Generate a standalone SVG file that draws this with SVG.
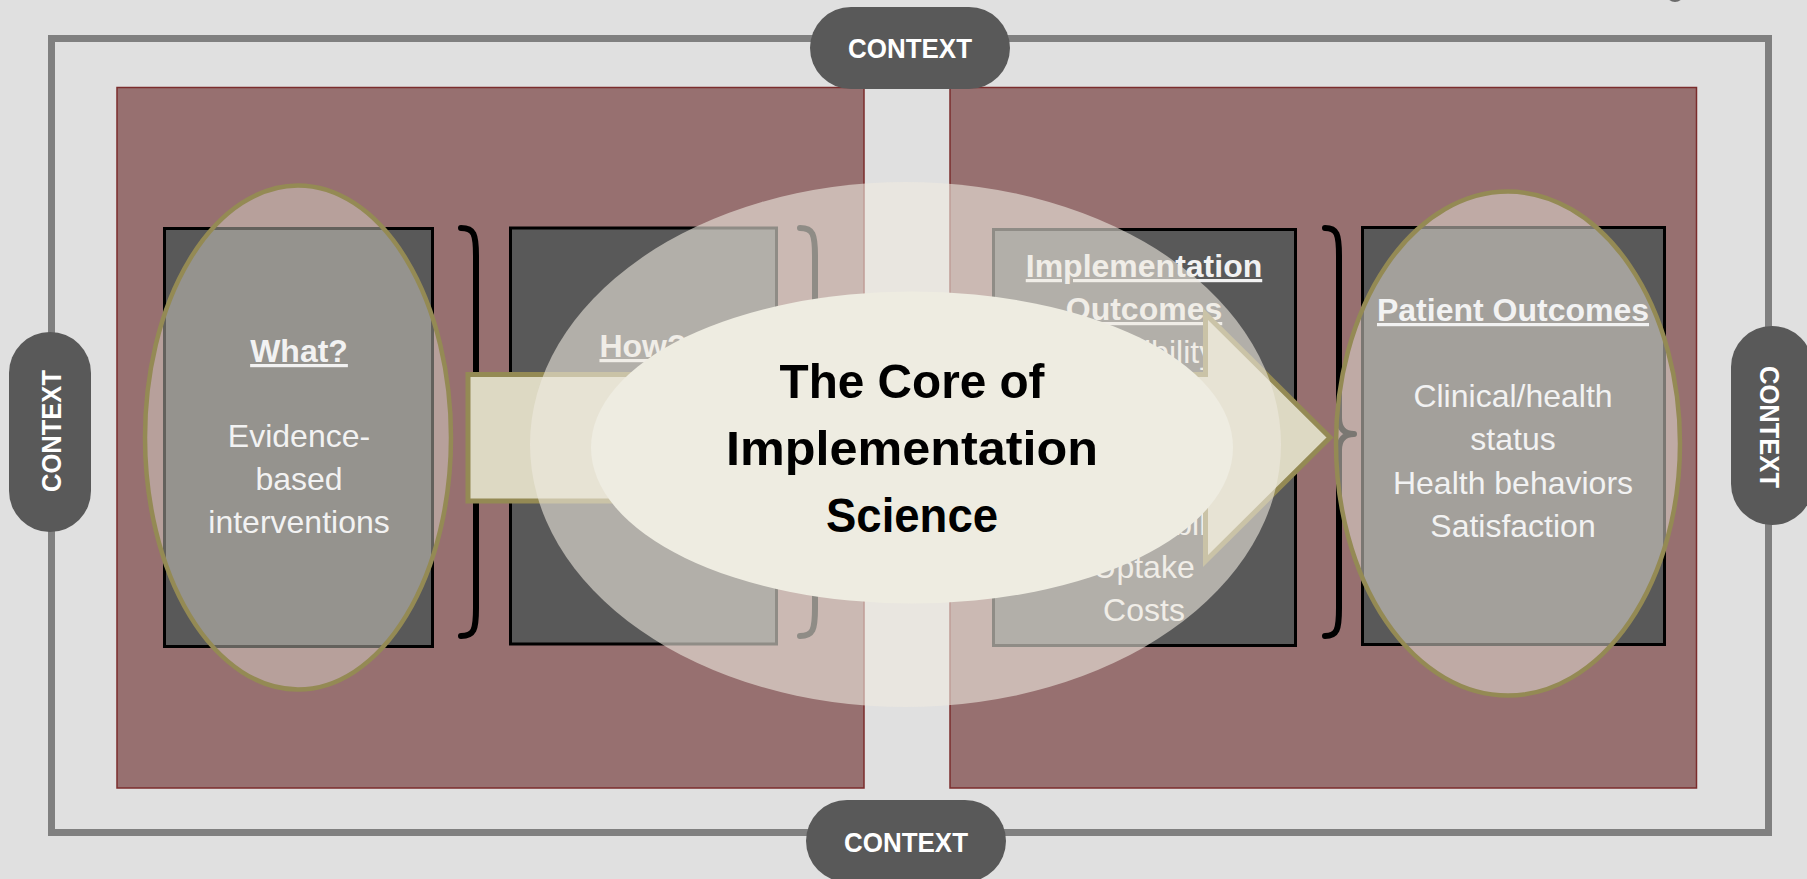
<svg xmlns="http://www.w3.org/2000/svg" width="1807" height="879" viewBox="0 0 1807 879">
<style>
.bg{fill:#e0e0e0}
.frame{fill:none;stroke:#808080;stroke-width:7}
.panel{fill:#977070;stroke:#7b2c2c;stroke-width:1.5}
.pill{fill:#595959}
.ctx{font-family:"Liberation Sans",Arial,sans-serif;font-weight:bold;font-size:27px;fill:#ffffff;text-anchor:middle}
.box{fill:#595959;stroke:#000000;stroke-width:3}
.hl{font-family:"Liberation Sans",Arial,sans-serif;font-weight:bold;font-size:32px;fill:#f2f2f2;text-anchor:middle;text-decoration:underline}
.tx{font-family:"Liberation Sans",Arial,sans-serif;font-size:32px;fill:#f2f2f2;text-anchor:middle}
.oval{fill:#e2dcd2;stroke:#948a54;stroke-width:4.5}
.brace{fill:none;stroke:#000000;stroke-width:6;stroke-linecap:round;stroke-linejoin:round}
.arrow{fill:#ddd9c3;stroke:#948a54;stroke-width:5;stroke-linejoin:miter}
.title{font-family:"Liberation Sans",Arial,sans-serif;font-weight:bold;font-size:49px;fill:#000000;text-anchor:middle}
</style>
<rect class="bg" x="0" y="0" width="1807" height="879"/>
<circle cx="1675" cy="-7" r="9" fill="#6b6b6b"/>
<g id="frame">
<rect class="frame" x="51.5" y="38.5" width="1717" height="794"/>
</g>
<g id="panel-left"><rect class="panel" x="117" y="87.5" width="747" height="700.5"/></g>
<g id="panel-right"><rect class="panel" x="950" y="87.5" width="746.5" height="700.5"/></g>
<g id="context-top">
<rect class="pill" x="810" y="7" width="200" height="82" rx="41"/>
<text class="ctx" x="910" y="58" textLength="124" lengthAdjust="spacingAndGlyphs">CONTEXT</text>
</g>
<g id="context-bottom">
<rect class="pill" x="806" y="800" width="200" height="82" rx="41"/>
<text class="ctx" x="906" y="852" textLength="124" lengthAdjust="spacingAndGlyphs">CONTEXT</text>
</g>
<g id="context-left">
<rect class="pill" x="9" y="332" width="82" height="200" rx="41"/>
<text class="ctx" transform="translate(61,431) rotate(-90)" x="0" y="0" textLength="122" lengthAdjust="spacingAndGlyphs">CONTEXT</text>
</g>
<g id="context-right">
<rect class="pill" x="1731" y="326" width="82" height="199" rx="41"/>
<text class="ctx" transform="translate(1760,427) rotate(90)" x="0" y="0" textLength="122" lengthAdjust="spacingAndGlyphs">CONTEXT</text>
</g>
<g id="node-what">
<rect class="box" x="164.5" y="228.5" width="268" height="418"/>
<ellipse class="oval" cx="298" cy="437.5" rx="153" ry="252" fill-opacity="0.44"/>
<text class="hl" x="299" y="362">What?</text>
<text class="tx" x="299" y="447">Evidence-</text>
<text class="tx" x="299" y="490">based</text>
<text class="tx" x="299" y="533">interventions</text>
</g>
<g id="node-how">
<rect class="box" x="510.5" y="228" width="266" height="416"/>
<text class="hl" x="643" y="357">How?</text>
</g>
<g id="node-implementation-outcomes">
<rect class="box" x="993.5" y="229.5" width="302" height="416"/>
<text class="hl" x="1144" y="277">Implementation</text>
<text class="hl" x="1144" y="320">Outcomes</text>
<text class="tx" x="1144" y="363">Feasibility</text>
<text class="tx" x="1144" y="535">Sustainability</text>
<text class="tx" x="1144" y="578">Uptake</text>
<text class="tx" x="1144" y="621">Costs</text>
</g>
<g id="connectors">
<path class="brace" d="M461 228 C474 228 476 234 476 256 V418 C476 428 480 434 489 434 C480 434 476 440 476 450 V608 C476 630 474 636 461 636"/>
<path class="brace" d="M800 228 C813 228 815 234 815 256 V418 C815 428 819 434 828 434 C819 434 815 440 815 450 V608 C815 630 813 636 800 636"/>
<path class="brace" d="M1325 228 C1337 228 1339 234 1339 256 V418 C1339 428 1344 434 1354 434 C1344 434 1339 440 1339 450 V608 C1339 630 1337 636 1325 636"/>
<path id="main-arrow" class="arrow" d="M468 374.5 H1205.5 V314 L1330 437.5 L1205.5 561 V501 H468 Z"/>
</g>
<g id="node-patient-outcomes">
<rect class="box" x="1362.5" y="227.5" width="302" height="417"/>
<ellipse class="oval" cx="1508" cy="443.6" rx="172" ry="252" fill-opacity="0.54"/>
<text class="hl" x="1513" y="321">Patient Outcomes</text>
<text class="tx" x="1513" y="407">Clinical/health</text>
<text class="tx" x="1513" y="450">status</text>
<text class="tx" x="1513" y="494">Health behaviors</text>
<text class="tx" x="1513" y="537">Satisfaction</text>
</g>
<g id="node-core">
<ellipse cx="905.5" cy="444.5" rx="375.5" ry="262.5" fill="#eeeae0" fill-opacity="0.6"/>
<ellipse cx="912" cy="447.6" rx="321" ry="156" fill="#eeece1"/>
<text class="title" x="912" y="398" textLength="265" lengthAdjust="spacingAndGlyphs">The Core of</text>
<text class="title" x="912" y="465" textLength="372" lengthAdjust="spacingAndGlyphs">Implementation</text>
<text class="title" x="912" y="532" textLength="172" lengthAdjust="spacingAndGlyphs">Science</text>
</g>
</svg>
